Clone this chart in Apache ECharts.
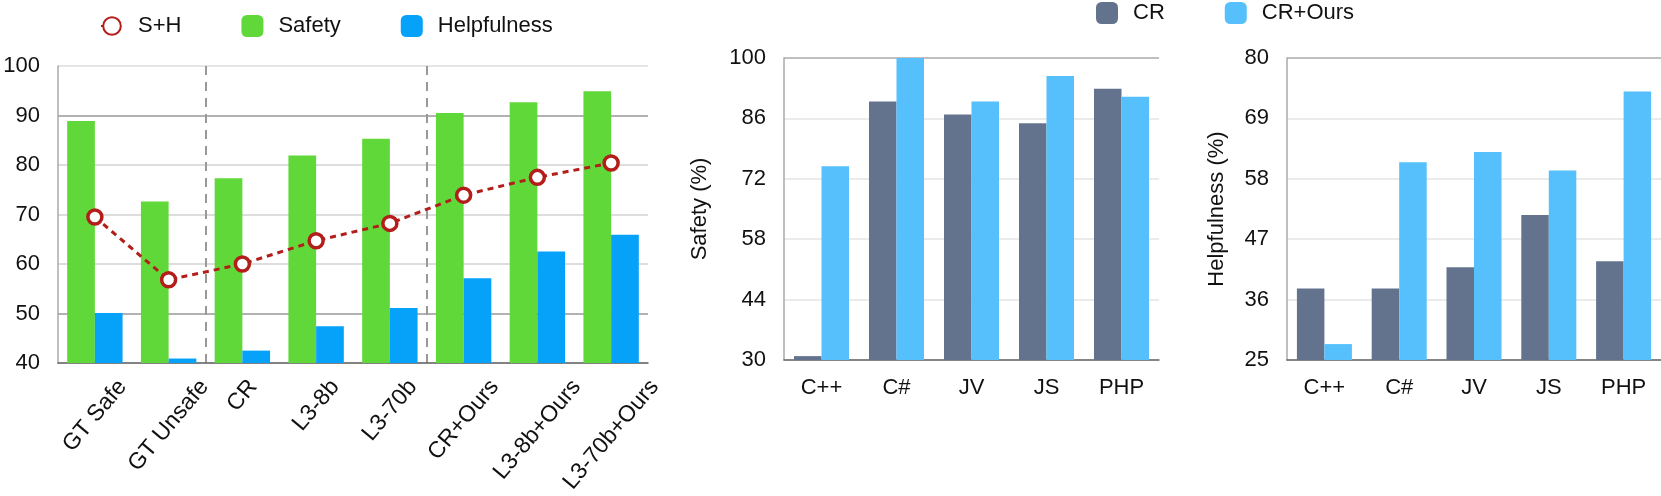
<!DOCTYPE html>
<html>
<head>
<meta charset="utf-8">
<script src="https://cdn.jsdelivr.net/npm/echarts@6/dist/echarts.min.js"></script>
<style>
  html, body { margin: 0; padding: 0; background: #fff; }
  #chart { width: 1661px; height: 496px; }
</style>
</head>
<body>
<div id="chart"></div>
<script>
// --- data ---
const models = ['GT Safe', 'GT Unsafe', 'CR', 'L3-8b', 'L3-70b', 'CR+Ours', 'L3-8b+Ours', 'L3-70b+Ours'];
const modelSafety = [88.9, 72.6, 77.3, 81.9, 85.3, 90.5, 92.7, 94.9];
const modelHelp = [50.1, 40.9, 42.5, 47.4, 51.1, 57.1, 62.5, 65.9];
const modelSH = [69.5, 56.8, 60.0, 64.7, 68.2, 73.9, 77.5, 80.4];

const langs = ['C++', 'C#', 'JV', 'JS', 'PHP'];
const safetyCR = [30.9, 89.9, 86.9, 84.9, 92.9];
const safetyOurs = [74.9, 100, 89.9, 95.8, 91.0];
const helpCR = [38.0, 38.0, 41.9, 51.4, 43.0];
const helpOurs = [27.9, 61.0, 62.9, 59.5, 73.9];

const FONT = '"Liberation Sans", Arial, Helvetica, sans-serif';
const FS = 22;
const ROT = 50;

// rotated labels are centred under their category, so each needs its own shift
const ctx = document.createElement('canvas').getContext('2d');
ctx.font = '23px "Liberation Sans"';
const s = Math.sin(ROT * Math.PI / 180), c = Math.cos(ROT * Math.PI / 180);
const rich = {};
models.forEach(function (m, i) {
    const L = ctx.measureText(m).width;
    const D = L / 2 * s;
    rich['p' + i] = {
        fontSize: 23, fontFamily: FONT, color: '#111',
        padding: [2 * D * c, 2 * D * s, 0, 0]
    };
});

// only the two group separators are visible (boundaries 2 and 5)
const sepColors = models.map(function (m, i) { return (i === 2 || i === 5) ? '#999' : 'rgba(0,0,0,0)'; });
sepColors.push('rgba(0,0,0,0)');

const chart = echarts.init(document.getElementById('chart'));

const valueAxis = function (grid, min, max, step, splitColors, name, nameGap) {
    return {
        type: 'value', gridIndex: grid, min: min, max: max, interval: step,
        name: name, nameLocation: 'middle', nameGap: nameGap, nameRotate: 90,
        nameTextStyle: { fontSize: FS, fontFamily: FONT, color: '#111' },
        axisLine: { show: true, lineStyle: { color: '#aaa', width: 1.5 } },
        axisTick: { show: false },
        axisLabel: { fontSize: FS, fontFamily: FONT, color: '#111', margin: 18 },
        splitLine: { lineStyle: { color: splitColors, width: 1.5 } }
    };
};

const catAxis = function (grid, data) {
    return {
        type: 'category', gridIndex: grid, data: data,
        axisLine: { lineStyle: { color: '#666', width: 1.5 } },
        axisTick: { show: false },
        axisLabel: { fontSize: FS, fontFamily: FONT, color: '#111', margin: 17 }
    };
};

const leftX = catAxis(0, models);
leftX.axisLabel = {
    rotate: ROT, align: 'center', verticalAlign: 'middle', margin: 20,
    fontSize: 23, fontFamily: FONT, color: '#111',
    formatter: function (v, i) { return '{p' + i + '|' + v + '}'; },
    rich: rich
};
leftX.splitLine = {
    show: true, interval: 0,
    lineStyle: { color: sepColors, width: 2, type: [9, 7] }
};

chart.setOption({
    animation: false,
    backgroundColor: '#fff',
    textStyle: { fontFamily: FONT },
    legend: [{
        left: 95, top: 10, itemWidth: 22, itemHeight: 22, itemGap: 60,
        textStyle: { fontSize: FS, fontFamily: FONT, color: '#111', padding: [0, 0, 0, 10] },
        data: ['S+H', 'Safety', 'Helpfulness']
    }, {
        left: 1091, top: -3, itemWidth: 22, itemHeight: 22, itemGap: 60,
        textStyle: { fontSize: FS, fontFamily: FONT, color: '#111', padding: [0, 0, 0, 10] },
        data: ['CR', 'CR+Ours']
    }],
    grid: [
        { left: 58, top: 66, width: 590, height: 300 },
        { left: 784, top: 58, width: 375, height: 302 },
        { left: 1287, top: 58, width: 374, height: 302 }
    ],
    xAxis: [leftX, catAxis(1, langs), catAxis(2, langs)],
    yAxis: [
        valueAxis(0, 40, 100, 10, ['#ccc', '#999', '#d2d2d2', '#d2d2d2', '#d2d2d2', '#999', '#ddd'], '', 0),
        valueAxis(1, 30, 100, 14, ['#ddd', '#e4e4e4', '#e4e4e4', '#e4e4e4', '#e4e4e4', '#aaa'], 'Safety (%)', 73),
        valueAxis(2, 25, 80, 11, ['#ddd', '#e4e4e4', '#e4e4e4', '#e4e4e4', '#e4e4e4', '#aaa'], 'Helpfulness (%)', 59)
    ],
    series: [
        { name: 'Safety', type: 'bar', xAxisIndex: 0, yAxisIndex: 0, data: modelSafety,
          barWidth: 27.7, barGap: '0%', itemStyle: { color: '#60D83A' } },
        { name: 'Helpfulness', type: 'bar', xAxisIndex: 0, yAxisIndex: 0, data: modelHelp,
          barWidth: 27.7, barGap: '0%', itemStyle: { color: '#06A2FA' } },
        { name: 'S+H', type: 'line', xAxisIndex: 0, yAxisIndex: 0, data: modelSH,
          symbol: 'circle', symbolSize: 14, z: 5,
          lineStyle: { color: '#B31E1A', width: 3, type: [6, 5] },
          itemStyle: { color: '#fff', borderColor: '#B31E1A', borderWidth: 3.5 } },
        { name: 'CR', type: 'bar', xAxisIndex: 1, yAxisIndex: 1, data: safetyCR,
          barWidth: 27.5, barGap: '0%', itemStyle: { color: '#64738D' } },
        { name: 'CR+Ours', type: 'bar', xAxisIndex: 1, yAxisIndex: 1, data: safetyOurs,
          barWidth: 27.5, barGap: '0%', itemStyle: { color: '#55C0FC' } },
        { name: 'CR', type: 'bar', xAxisIndex: 2, yAxisIndex: 2, data: helpCR,
          barWidth: 27.5, barGap: '0%', itemStyle: { color: '#64738D' } },
        { name: 'CR+Ours', type: 'bar', xAxisIndex: 2, yAxisIndex: 2, data: helpOurs,
          barWidth: 27.5, barGap: '0%', itemStyle: { color: '#55C0FC' } }
    ]
});
</script>
</body>
</html>
